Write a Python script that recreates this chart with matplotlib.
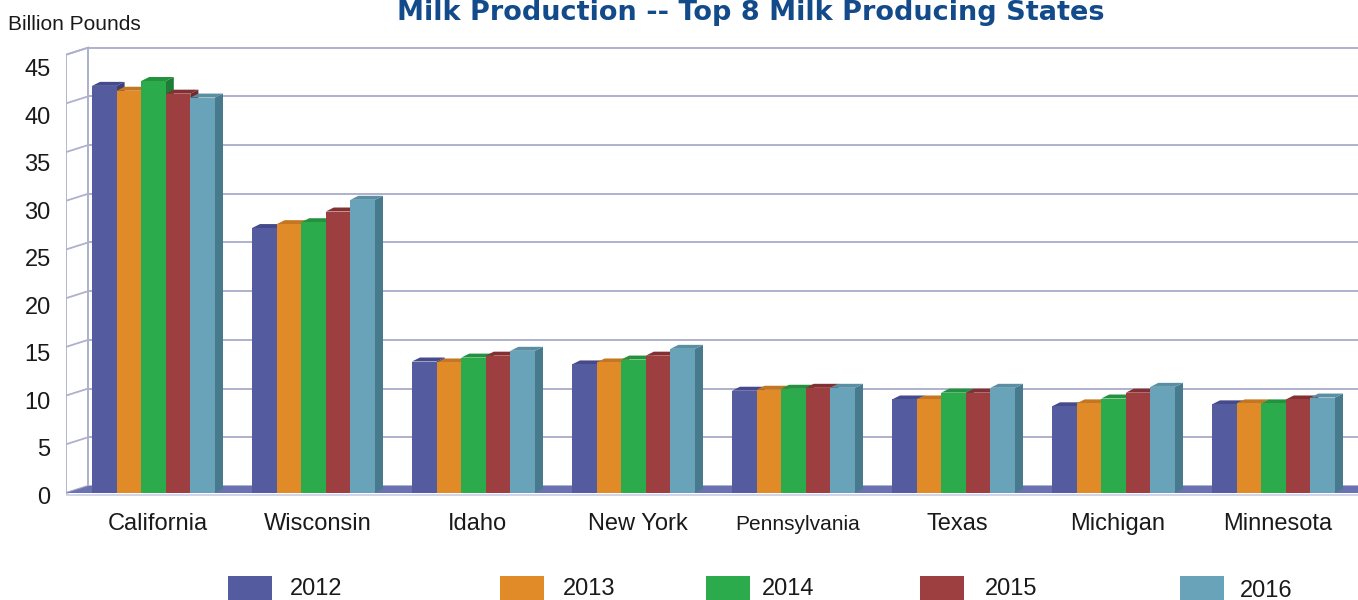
import matplotlib
matplotlib.use("Agg")
import matplotlib.pyplot as plt
from matplotlib.patches import Polygon, Rectangle
import numpy as np

# ---------------- data ----------------
states = ["California", "Wisconsin", "Idaho", "New York", "Pennsylvania",
          "Texas", "Michigan", "Minnesota"]
years = ["2012", "2013", "2014", "2015", "2016"]
v2012 = [41.8, 27.2, 13.5, 13.2, 10.5, 9.6, 8.9, 9.1]
v2013 = [41.3, 27.6, 13.4, 13.4, 10.6, 9.6, 9.2, 9.2]
v2014 = [42.3, 27.8, 13.9, 13.7, 10.7, 10.3, 9.7, 9.2]
v2015 = [41.0, 28.9, 14.1, 14.1, 10.8, 10.3, 10.3, 9.6]
v2016 = [40.6, 30.1, 14.6, 14.8, 10.8, 10.8, 10.9, 9.8]
series = [v2012, v2013, v2014, v2015, v2016]
yticks = [0, 5, 10, 15, 20, 25, 30, 35, 40, 45]

# ---------------- style ----------------
front_cols = ["#555b9f", "#e08b27", "#2bab4b", "#9d3f40", "#68a3ba"]
side_cols = ["#3b4078", "#a9651a", "#1d7c35", "#6f2a2b", "#467a8c"]
top_cols = ["#444a8a", "#c47620", "#23923f", "#842f31", "#5a8fa3"]
grid_col = "#aeb1cc"
floor_col = "#6a72b2"
title_col = "#134b8a"

W, H, DPI = 1358, 600, 100
fig = plt.figure(figsize=(W / DPI, H / DPI), dpi=DPI)
fig.patch.set_facecolor("white")

# axes placed in pixel geometry
ax_l, ax_r, ax_t, ax_b = 66, 1358, 40, 500
pos = [ax_l / W, 1 - ax_b / H, (ax_r - ax_l) / W, (ax_b - ax_t) / H]
ax = fig.add_axes(pos)
px_cat, cat0 = 160.0, 153.5          # pixels per category, first category centre
zero_px, px_unit = 493.0, 9.74       # front baseline & pixels per unit
ax.set_xlim((ax_l - cat0) / px_cat, (ax_r - cat0) / px_cat)
ax.set_ylim((zero_px - ax_b) / px_unit, (zero_px - ax_t) / px_unit)
ax.axis("off")

def pxx(p):
    return p / px_cat

def pxy(p):
    return p / px_unit

x0 = ax.get_xlim()[0]
x1 = ax.get_xlim()[1] + 1
wdx, wdy = pxx(22), pxy(7)      # wall depth
bdx, bdy = pxx(8), pxy(4)       # bar depth
ymax = yticks[-1]

# side wall
ax.add_patch(Polygon([(x0, 0), (x0, ymax), (x0 + wdx, ymax + wdy), (x0 + wdx, wdy)],
                     closed=True, facecolor="white", edgecolor=grid_col, lw=1.3, zorder=1))
for v in yticks:
    ax.plot([x0, x0 + wdx], [v, v + wdy], color=grid_col, lw=1.3, zorder=1.1)
    ax.plot([x0 + wdx, x1], [v + wdy, v + wdy], color=grid_col, lw=1.4, zorder=1.1)
ax.plot([x0 + wdx, x0 + wdx], [wdy, ymax + wdy], color=grid_col, lw=1.3, zorder=1.1)

# floor
ax.add_patch(Polygon([(x0, 0), (x1, 0), (x1, wdy), (x0 + wdx, wdy)], closed=True,
                     facecolor=floor_col, edgecolor="none", zorder=1.2))
ax.plot([x0, x1], [-pxy(1.5), -pxy(1.5)], color="#c9cce6", lw=1.2, zorder=1.2)

# bars
nser = len(series)
bw = 24.6 / px_cat
xs = np.arange(len(states))
z = 2.0
for i in range(len(states)):
    for j in range(nser):
        h = series[j][i]
        left = xs[i] + (j - nser / 2) * bw
        right = left + bw
        ax.add_patch(Polygon([(right, 0), (right + bdx, bdy), (right + bdx, h + bdy), (right, h)],
                             closed=True, facecolor=side_cols[j], edgecolor="none", zorder=z))
        ax.add_patch(Polygon([(left, h), (left + bdx, h + bdy), (right + bdx, h + bdy), (right, h)],
                             closed=True, facecolor=top_cols[j], edgecolor="none", zorder=z))
        ax.bar(left, h, width=bw, align="edge", color=front_cols[j], zorder=z + 0.1,
               edgecolor="none")
        z += 0.2

# category labels
for i, s in enumerate(states):
    fs = 15 if s == "Pennsylvania" else 17
    ax.text(xs[i] + pxx(4), -pxy(31), s, ha="center", va="center", fontsize=fs,
            family="Liberation Sans", color="#1a1a1a")

# y tick labels on their own (perspective) scale
lab = fig.add_axes(pos, frameon=False)
lab0, lab_unit = 495.0, 9.49
lab.set_ylim((lab0 - ax_b) / lab_unit, (lab0 - ax_t) / lab_unit)
lab.set_xticks([])
lab.set_yticks(yticks)
lab.set_yticklabels([str(t) for t in yticks], fontsize=17, family="Liberation Sans",
                    color="#1a1a1a")
lab.tick_params(axis="y", length=0, pad=11)
lab.patch.set_alpha(0)

# axis title
fig.text(8 / W, 1 - 25 / H, "Billion Pounds", ha="left", va="center", fontsize=15,
         family="Liberation Sans", color="#1a1a1a")

# chart title
fig.text(751 / W, 1 - 20 / H, "Milk Production -- Top 8 Milk Producing States",
         ha="center", va="baseline", fontsize=19.5, fontweight="bold",
         family="DejaVu Sans", color=title_col)

# legend
leg_x = [228, 500, 706, 920, 1180]
leg_tx = [290, 563, 762, 985, 1240]
leg_ty = [589, 589, 589, 589, 591]
for j in range(nser):
    fig.patches.append(Rectangle((leg_x[j] / W, 0), 44 / W, (H - 576) / H,
                                 transform=fig.transFigure, facecolor=front_cols[j],
                                 edgecolor="none"))
    fig.text(leg_tx[j] / W, 1 - leg_ty[j] / H, years[j], ha="left", va="center",
             fontsize=17, family="Liberation Sans", color="#1a1a1a")

fig.savefig("out.png", dpi=DPI)
